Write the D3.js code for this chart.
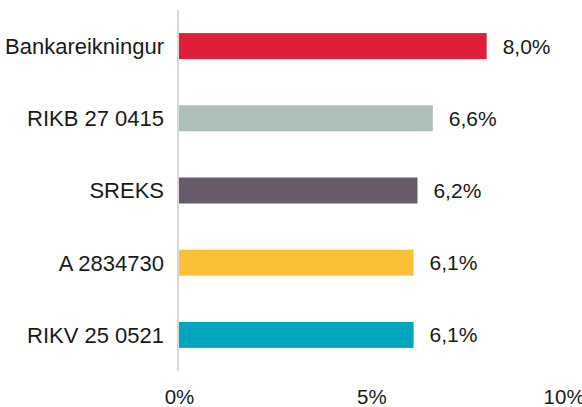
<!DOCTYPE html>
<html>
<head>
<meta charset="utf-8">
<script src="https://cdn.jsdelivr.net/npm/d3@7/dist/d3.min.js"></script>
<style>
  html, body { margin: 0; padding: 0; background: #fff; }
  svg { display: block; }
  text { font-family: "Liberation Sans", Arial, sans-serif; fill: #1a1a1a; }
</style>
</head>
<body>
<svg id="chart" width="582" height="407"></svg>
<script>
const categories = ["Bankareikningur", "RIKB 27 0415", "SREKS", "A 2834730", "RIKV 25 0521"];
const values = [8.0, 6.6, 6.2, 6.1, 6.1];
const colors = ["#DF1F38", "#AEBEB9", "#675A6A", "#FBC038", "#00A6BB"];
const tickValues = [0, 5, 10];
const tickLabels = ["0%", "5%", "10%"];

const svg = d3.select("#chart");
const x = d3.scaleLinear().domain([0, 10]).range([179, 563.6]);
const y = d3.scaleBand().domain(categories).range([10, 371]).paddingInner(0.64).paddingOuter(0.32);

const fmt = v => v.toFixed(1).replace(".", ",") + "%";

// bars
svg.selectAll("rect.bar").data(categories).join("rect")
  .attr("class", "bar")
  .attr("x", x(0))
  .attr("y", d => y(d))
  .attr("width", (d, i) => x(values[i]) - x(0))
  .attr("height", y.bandwidth())
  .attr("fill", (d, i) => colors[i]);

// vertical axis line
svg.append("line")
  .attr("x1", x(0) - 1).attr("x2", x(0) - 1)
  .attr("y1", y.range()[0]).attr("y2", y.range()[1])
  .attr("stroke", "#D9D9D9").attr("stroke-width", 2);

// category labels
svg.selectAll("text.cat").data(categories).join("text")
  .attr("class", "cat")
  .attr("x", x(0) - 15)
  .attr("y", d => y(d) + y.bandwidth() / 2)
  .attr("dy", "0.36em")
  .attr("text-anchor", "end")
  .attr("font-size", 22)
  .text(d => d);

// value labels
svg.selectAll("text.val").data(categories).join("text")
  .attr("class", "val")
  .attr("x", (d, i) => x(values[i]) + 16)
  .attr("y", d => y(d) + y.bandwidth() / 2)
  .attr("dy", "0.36em")
  .attr("font-size", 21)
  .text((d, i) => fmt(values[i]));

// x axis ticks
const xAxis = d3.axisBottom(x).tickValues(tickValues).tickSize(0)
  .tickFormat((d, i) => tickLabels[i]);
const gx = svg.append("g").attr("transform", "translate(0,371)").call(xAxis);
gx.select(".domain").remove();
gx.selectAll("text")
  .attr("font-size", 20.5)
  .attr("y", 18)
  .attr("dy", "0.71em")
  .attr("fill", "#1a1a1a")
  .style("font-family", "'Liberation Sans', Arial, sans-serif");
</script>
</body>
</html>
